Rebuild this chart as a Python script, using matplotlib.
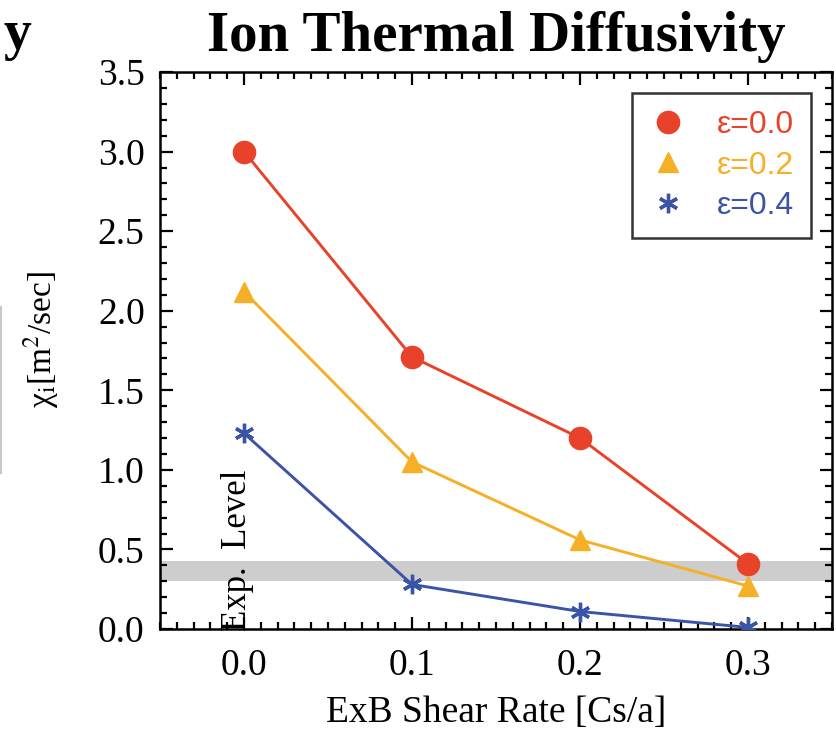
import matplotlib
matplotlib.use("Agg")
import matplotlib.pyplot as plt
from matplotlib.lines import Line2D
from matplotlib.ticker import MultipleLocator

plt.rcParams['font.family'] = ['Liberation Serif', 'DejaVu Serif']
plt.rcParams['mathtext.fontset'] = 'stix'

shear = [0.0, 0.1, 0.2, 0.3]
chi_eps00 = [3.00, 1.71, 1.20, 0.41]
chi_eps02 = [2.12, 1.05, 0.56, 0.27]
chi_eps04 = [1.23, 0.28, 0.11, 0.01]
labels = ['ε=0.0', 'ε=0.2', 'ε=0.4']
exp_level = (0.30, 0.43)

red = '#e8432a'
orange = '#f5b027'
blue = '#3c54a6'

fig = plt.figure(figsize=(8.36, 7.32), dpi=100)
ax = fig.add_axes([0.1914, 0.1407, 0.8038, 0.7609])

ax.axhspan(exp_level[0], exp_level[1], color='#cdcdcd', lw=0, zorder=0)

ax.plot(shear, chi_eps00, color=red, lw=2.1, marker='o', ms=16, label=labels[0], zorder=3)
ax.plot(shear, chi_eps02, color=orange, lw=2.1, marker='^', ms=14, label=labels[1], zorder=3)
ax.plot(shear, chi_eps04, color=blue, lw=2.1, marker=(6, 2, 0), ms=14, mew=2.4,
        label=labels[2], zorder=3)

ax.text(-0.004, -0.015, 'Exp.  Level', rotation=90, ha='center', va='bottom',
        fontsize=25, zorder=4)

ax.set_xlim(-0.05, 0.35)
ax.set_ylim(0, 3.5)
ax.xaxis.set_major_locator(MultipleLocator(0.1))
ax.xaxis.set_minor_locator(MultipleLocator(0.01))
ax.yaxis.set_major_locator(MultipleLocator(0.5))
ax.yaxis.set_minor_locator(MultipleLocator(0.1))
ax.xaxis.set_major_formatter(lambda v, p: f'{v:.1f}')
ax.yaxis.set_major_formatter(lambda v, p: f'{v:.1f}')

ax.tick_params(which='both', direction='in', top=True, right=True, width=1.6)
ax.tick_params(which='major', length=9, labelsize=27)
ax.tick_params(axis='x', which='major', pad=14)
ax.tick_params(axis='y', which='major', pad=11)
ax.tick_params(which='minor', length=5)
for s in ax.spines.values():
    s.set_linewidth(1.8)

ax.set_xlabel('ExB Shear Rate [Cs/a]', fontsize=27, labelpad=9)
ax.set_ylabel(r'χ$_\mathrm{i}$[m$^2$/sec]', fontsize=24)
ax.yaxis.set_label_coords(-0.148, 0.52)
ax.set_title('Ion Thermal Diffusivity', fontsize=41, fontweight='bold', pad=15)

handles = [Line2D([], [], ls='none', color=red, marker='o', ms=16),
           Line2D([], [], ls='none', color=orange, marker='^', ms=14),
           Line2D([], [], ls='none', color=blue, marker=(6, 2, 0), ms=14, mew=2.4)]
leg = ax.legend(handles, labels, loc='upper right', frameon=True, fancybox=False,
                edgecolor='black', borderaxespad=0.65, handlelength=1.2,
                handletextpad=0.9, labelspacing=0.32, borderpad=0.55,
                prop={'family': ['Liberation Sans'], 'size': 23})
leg.get_frame().set_linewidth(1.8)
for t, c in zip(leg.get_texts(), [red, orange, blue]):
    t.set_color(c)

fig.text(0.004, 0.952, 'y', fontsize=40, fontweight='bold', va='center')
fig.add_artist(Line2D([0.0015, 0.0015], [1 - 307 / 732, 1 - 473 / 732],
                      color='#c8c8c8', lw=1.5, transform=fig.transFigure))

fig.savefig('out.png', dpi=100)
